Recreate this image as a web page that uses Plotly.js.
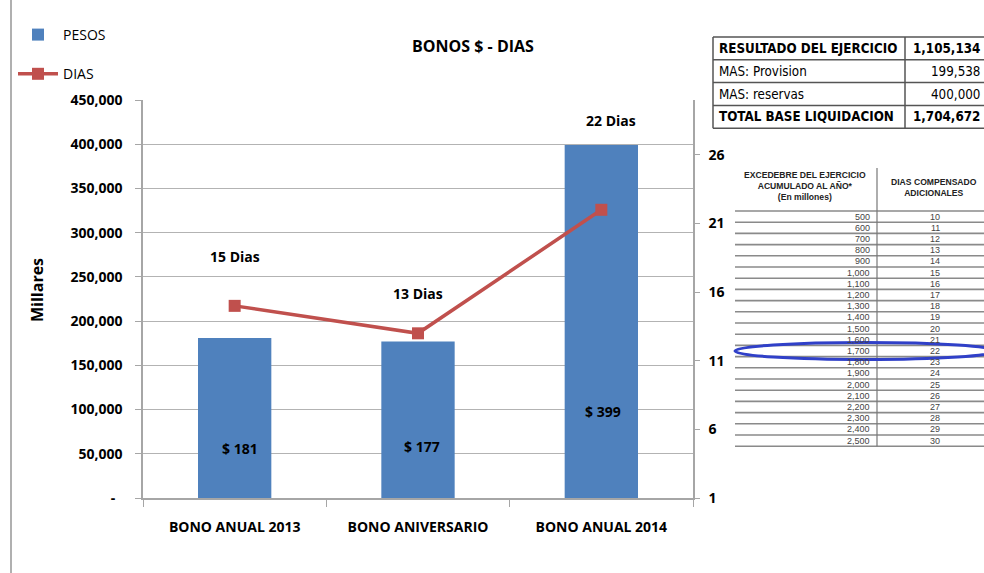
<!DOCTYPE html>
<html>
<head>
<meta charset="utf-8">
<script src="https://cdn.plot.ly/plotly-3.0.1.min.js"></script>
<style>
  html, body { margin: 0; padding: 0; background: #ffffff; }
  #chart { width: 984px; height: 573px; }
</style>
</head>
<body>
<div id="chart"></div>
<script>
// ---------------- DATA ----------------
const categories = ['BONO ANUAL 2013', 'BONO ANIVERSARIO', 'BONO ANUAL 2014'];
const pesos = [181000, 177000, 399000];
const dias = [15, 13, 22];

const pesosTickVals = [0, 50000, 100000, 150000, 200000, 250000, 300000, 350000, 400000, 450000];
const pesosTickText = ['-\u00a0\u00a0', '50,000', '100,000', '150,000', '200,000', '250,000', '300,000', '350,000', '400,000', '450,000'];
const diasTickVals = [1, 6, 11, 16, 21, 26];

const resultadoLabels = ['RESULTADO DEL EJERCICIO', 'MAS: Provision', 'MAS: reservas', 'TOTAL BASE LIQUIDACION'];
const resultadoValues = ['1,105,134', '199,538', '400,000', '1,704,672'];
const resultadoBold = [true, false, false, true];

const excedenteHeader = ['EXCEDEBRE DEL EJERCICIO', 'ACUMULADO AL AÑO*', '(En millones)'];
const diasCompHeader = ['DIAS COMPENSADO', 'ADICIONALES'];
const excedente = ['500', '600', '700', '800', '900', '1,000', '1,100', '1,200', '1,300', '1,400', '1,500',
                   '1,600', '1,700', '1,800', '1,900', '2,000', '2,100', '2,200', '2,300', '2,400', '2,500'];
const diasCompensado = [10, 11, 12, 13, 14, 15, 16, 17, 18, 19, 20, 21, 22, 23, 24, 25, 26, 27, 28, 29, 30];
const highlightedRow = '1,700';

// ---------------- STYLE / LAYOUT HELPERS ----------------
const W = 984, H = 573;
const M = { l: 143, r: 291, t: 100, b: 75 };
const PW = W - M.l - M.r, PH = H - M.t - M.b;
const px = p => (p - M.l) / PW;          // pixel x -> paper x
const py = p => (H - M.b - p) / PH;      // pixel y -> paper y

const FONT = 'Open Sans, Lato, sans-serif';
const NARROW = 'Liberation Sans Narrow, DejaVu Sans Condensed, Arial Narrow, sans-serif';
const ARIAL = 'Liberation Sans, Arial, sans-serif';
const BLUE = '#4f81bd', RED = '#c0504d', AXIS = '#a6a6a6', GRID = '#b3b3b3';

const diasLabelShift = [[0, 49], [0, 40], [10, 89]];
const pesosLabelShift = [[5, 50], [4, 52], [2, 87]];

const traces = [
  {
    type: 'bar', name: 'PESOS', x: categories, y: pesos, width: 0.4,
    marker: { color: BLUE }, legendgroup: 'a', hoverinfo: 'x+y'
  },
  {
    type: 'scatter', mode: 'lines+markers', name: 'DIAS', x: categories, y: dias, yaxis: 'y2',
    line: { color: RED, width: 3.5 }, marker: { symbol: 'square', size: 12, color: RED },
    legendgroup: 'b', hoverinfo: 'x+y'
  }
];

const annotations = [];
const shapes = [];

// data labels
categories.forEach((c, i) => {
  annotations.push({
    x: c, y: dias[i], xref: 'x', yref: 'y2', text: dias[i] + ' Dias', showarrow: false,
    xshift: diasLabelShift[i][0], yshift: diasLabelShift[i][1],
    font: { family: FONT, size: 14, color: '#000', weight: 'bold' }
  });
  annotations.push({
    x: c, y: 0, xref: 'x', yref: 'y', text: '$ ' + Math.round(pesos[i] / 1000), showarrow: false,
    xshift: pesosLabelShift[i][0], yshift: pesosLabelShift[i][1],
    font: { family: FONT, size: 14, color: '#000', weight: 'bold' }
  });
});

// y axis title (rotated)
annotations.push({
  x: px(37), y: py(290), xref: 'paper', yref: 'paper', xanchor: 'center', yanchor: 'middle',
  text: 'Millares', textangle: -90,
  showarrow: false, font: { family: FONT, size: 16, color: '#000', weight: 'bold' }
});

// left frame line
shapes.push({ type: 'line', xref: 'paper', yref: 'paper', x0: px(11), x1: px(11), y0: py(-2), y1: py(575),
  line: { color: '#b0b0b0', width: 2 } });

// ---- top table: RESULTADO ----
const tTop = 37, tRow = 22.8, tLeft = 713, tDiv = 905, tRight = 992;
for (let k = 0; k <= resultadoLabels.length; k++) {
  const yy = tTop + k * tRow;
  shapes.push({ type: 'line', xref: 'paper', yref: 'paper', x0: px(tLeft), x1: px(tRight), y0: py(yy), y1: py(yy),
    line: { color: '#555', width: 1.5 } });
}
[tLeft, tDiv].forEach(xx => shapes.push({ type: 'line', xref: 'paper', yref: 'paper', x0: px(xx), x1: px(xx),
  y0: py(tTop), y1: py(tTop + resultadoLabels.length * tRow), line: { color: '#555', width: 1.5 } }));
resultadoLabels.forEach((lab, i) => {
  const yc = tTop + (i + 0.5) * tRow;
  annotations.push({ x: px(717), y: py(yc), xref: 'paper', yref: 'paper', xanchor: 'left', yanchor: 'middle',
    text: lab, showarrow: false,
    font: { family: NARROW, size: 13.3, color: '#000', weight: resultadoBold[i] ? 'bold' : 'normal' } });
  annotations.push({ x: px(982), y: py(yc), xref: 'paper', yref: 'paper', xanchor: 'right', yanchor: 'middle',
    text: resultadoValues[i], showarrow: false,
    font: { family: NARROW, size: 13.3, color: '#000', weight: resultadoBold[i] ? 'bold' : 'normal' } });
});

// ---- second table: EXCEDENTE / DIAS ----
const sTop = 211, sRow = 11.2, sLeft = 735, sDiv = 877, sRight = 992;
annotations.push({
  x: px(805), y: py(186), xref: 'paper', yref: 'paper', xanchor: 'center', yanchor: 'middle', align: 'center',
  text: excedenteHeader.join('<br>'), showarrow: false,
  font: { family: ARIAL, size: 8.6, color: '#222', weight: 'bold' } });
annotations.push({
  x: px(934), y: py(187), xref: 'paper', yref: 'paper', xanchor: 'center', yanchor: 'middle', align: 'center',
  text: diasCompHeader.join('<br>'), showarrow: false,
  font: { family: ARIAL, size: 8.6, color: '#222', weight: 'bold' } });
for (let k = 0; k <= excedente.length; k++) {
  const yy = sTop + k * sRow;
  shapes.push({ type: 'line', xref: 'paper', yref: 'paper', x0: px(sLeft), x1: px(sRight), y0: py(yy), y1: py(yy),
    line: { color: '#8a8a8a', width: 1.6 } });
}
shapes.push({ type: 'line', xref: 'paper', yref: 'paper', x0: px(sDiv), x1: px(sDiv), y0: py(168),
  y1: py(sTop + excedente.length * sRow), line: { color: '#777', width: 1.2 } });
excedente.forEach((v, i) => {
  const yc = sTop + (i + 0.5) * sRow;
  annotations.push({ x: px(872), y: py(yc), xref: 'paper', yref: 'paper', xanchor: 'right', yanchor: 'middle',
    text: v, showarrow: false, font: { family: ARIAL, size: 9, color: '#444' } });
  annotations.push({ x: px(935), y: py(yc), xref: 'paper', yref: 'paper', xanchor: 'center', yanchor: 'middle',
    text: String(diasCompensado[i]), showarrow: false, font: { family: ARIAL, size: 9, color: '#444' } });
});
// highlight ellipse around the selected row
const hi = excedente.indexOf(highlightedRow);
const hc = sTop + (hi + 0.5) * sRow;
shapes.push({ type: 'circle', xref: 'paper', yref: 'paper', x0: px(735), x1: px(996), y0: py(hc - 8.5), y1: py(hc + 8.5),
  line: { color: '#3040c8', width: 3 } });

const layout = {
  width: W, height: H,
  margin: M,
  paper_bgcolor: '#fff', plot_bgcolor: '#fff',
  font: { family: FONT, size: 14, color: '#000' },
  title: { text: 'BONOS $ - DIAS', x: 473 / W, xanchor: 'center', xref: 'container',
    y: 1 - 46 / H, yanchor: 'middle', yref: 'container',
    font: { family: FONT, size: 16, color: '#000', weight: 'bold' } },
  showlegend: true,
  legend: { x: px(13), y: py(19), xanchor: 'left', yanchor: 'top', xref: 'paper', yref: 'paper',
    font: { family: FONT, size: 14, color: '#000' }, tracegroupgap: 18, itemwidth: 40,
    bgcolor: 'rgba(0,0,0,0)' },
  xaxis: {
    type: 'category', tickson: 'boundaries', ticks: 'outside', ticklen: 7, tickcolor: AXIS,
    showline: true, linecolor: AXIS, linewidth: 1.5, showgrid: false, ticklabelstandoff: 15,
    tickfont: { family: FONT, size: 14, color: '#000', weight: 'bold' }
  },
  yaxis: {
    range: [0, 450000], tickvals: pesosTickVals, ticktext: pesosTickText,
    ticks: 'outside', ticklen: 6, tickcolor: AXIS, showline: true, linecolor: AXIS, linewidth: 1.5,
    showgrid: true, gridcolor: GRID, gridwidth: 1.2, zeroline: false, ticklabelstandoff: 10,
    tickfont: { family: FONT, size: 14, color: '#000', weight: 'bold' }
  },
  yaxis2: {
    overlaying: 'y', side: 'right', range: [1, 30], tickvals: diasTickVals,
    ticks: 'outside', ticklen: 5, tickcolor: AXIS, showline: true, linecolor: AXIS, linewidth: 1.5,
    showgrid: false, zeroline: false, ticklabelstandoff: 6,
    tickfont: { family: FONT, size: 14, color: '#000', weight: 'bold' }
  },
  annotations: annotations,
  shapes: shapes
};

Plotly.newPlot('chart', traces, layout, { displayModeBar: false, responsive: false });
</script>
</body>
</html>
